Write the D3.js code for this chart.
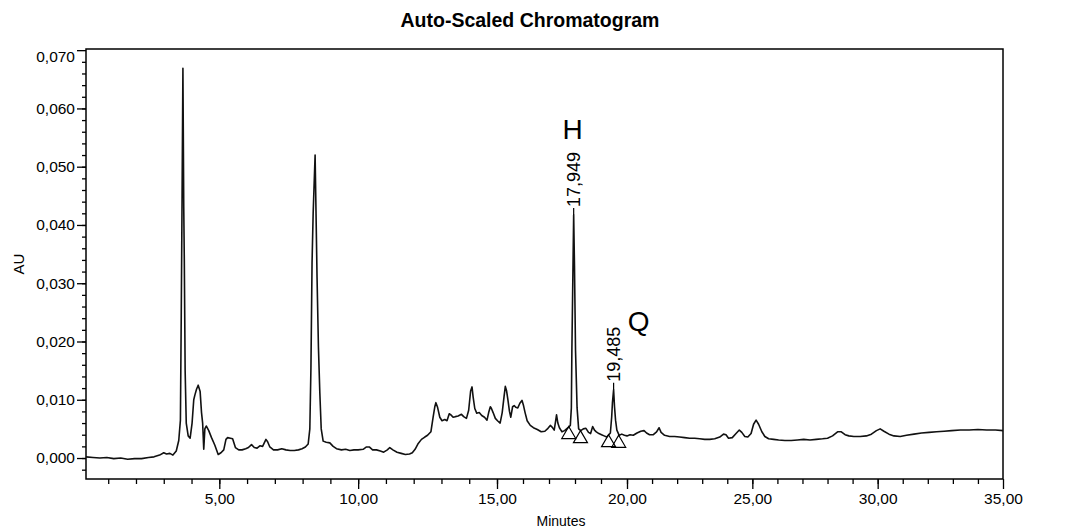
<!DOCTYPE html>
<html>
<head>
<meta charset="utf-8">
<script src="https://cdn.jsdelivr.net/npm/d3@7"></script>
<style>
  body { margin: 0; background: #fff; }
  svg { display: block; font-family: "Liberation Sans", Arial, sans-serif; }
</style>
</head>
<body>
<svg id="chart" width="1066" height="531"></svg>
<script>
// chromatogram trace (minutes / AU)
var minutes = [
  0.20, 0.45, 0.70, 0.95, 1.20, 1.45, 1.70, 1.95, 2.20, 2.45, 2.65, 2.85, 3.00, 3.10, 3.22, 3.33, 3.45, 3.54, 3.60, 3.63,
  3.66, 3.69, 3.72, 3.74, 3.77, 3.81, 3.88, 3.95, 4.02, 4.08, 4.12, 4.18, 4.24, 4.31, 4.36, 4.40, 4.44, 4.48, 4.53, 4.62,
  4.72, 4.84, 4.96, 5.06, 5.16, 5.24, 5.30, 5.40, 5.48, 5.58, 5.70, 5.82, 5.95, 6.05, 6.16, 6.26, 6.36, 6.46, 6.56, 6.68,
  6.74, 6.82, 6.95, 7.10, 7.25, 7.40, 7.55, 7.70, 7.85, 7.98, 8.10, 8.20, 8.26, 8.30, 8.34, 8.38, 8.45, 8.49, 8.52, 8.57,
  8.62, 8.67, 8.74, 8.85, 8.98, 9.10, 9.22, 9.40, 9.55, 9.70, 9.85, 10.00, 10.18, 10.30, 10.40, 10.52, 10.66, 10.80, 10.92, 11.05,
  11.14, 11.25, 11.40, 11.55, 11.70, 11.85, 11.95, 12.05, 12.15, 12.28, 12.40, 12.50, 12.62, 12.70, 12.76, 12.80, 12.86, 12.94, 13.02, 13.12,
  13.20, 13.28, 13.34, 13.42, 13.50, 13.60, 13.72, 13.80, 13.90, 13.98, 14.05, 14.10, 14.14, 14.20, 14.27, 14.36, 14.45, 14.55, 14.64, 14.70,
  14.76, 14.80, 14.86, 14.94, 15.02, 15.12, 15.20, 15.27, 15.32, 15.37, 15.42, 15.48, 15.53, 15.60, 15.66, 15.72, 15.80, 15.88, 15.96, 16.02,
  16.08, 16.16, 16.28, 16.40, 16.55, 16.70, 16.84, 16.96, 17.05, 17.12, 17.20, 17.25, 17.29, 17.34, 17.40, 17.50, 17.60, 17.70, 17.78, 17.82,
  17.86, 17.88, 17.949, 17.98, 18.02, 18.08, 18.14, 18.22, 18.32, 18.42, 18.52, 18.60, 18.68, 18.75, 18.82, 18.92, 19.02, 19.12, 19.22, 19.30,
  19.36, 19.41, 19.44, 19.485, 19.52, 19.56, 19.61, 19.70, 19.80, 19.90, 20.00, 20.12, 20.25, 20.40, 20.55, 20.68, 20.78, 20.90, 21.05, 21.18,
  21.28, 21.36, 21.50, 21.70, 21.90, 22.10, 22.30, 22.50, 22.70, 22.90, 23.10, 23.30, 23.50, 23.70, 23.85, 23.95, 24.05, 24.20, 24.35, 24.48,
  24.58, 24.70, 24.82, 24.95, 25.05, 25.15, 25.25, 25.38, 25.50, 25.65, 25.85, 26.05, 26.30, 26.55, 26.80, 27.05, 27.30, 27.55, 27.80, 28.00,
  28.20, 28.40, 28.55, 28.70, 28.85, 29.05, 29.30, 29.55, 29.75, 29.95, 30.10, 30.25, 30.45, 30.65, 30.90, 31.15, 31.45, 31.75, 32.05, 32.35,
  32.65, 32.95, 33.30, 33.65, 34.00, 34.35, 34.70, 35.00
];
var au = [
  0.0002, 0.0001, 0.0000, 0.0001, -0.0001, 0.0000, -0.0002, -0.0001, -0.0001, 0.0001, 0.0002, 0.0005, 0.0009, 0.0007, 0.0008, 0.0005, 0.0012, 0.0030, 0.0065, 0.0245,
  0.0450, 0.0669, 0.0430, 0.0340, 0.0150, 0.0060, 0.0038, 0.0034, 0.0060, 0.0100, 0.0108, 0.0118, 0.0125, 0.0114, 0.0078, 0.0060, 0.0015, 0.0050, 0.0055, 0.0047,
  0.0035, 0.0022, 0.0006, 0.0009, 0.0014, 0.0032, 0.0035, 0.0034, 0.0033, 0.0018, 0.0014, 0.0014, 0.0016, 0.0018, 0.0023, 0.0018, 0.0017, 0.0021, 0.0020, 0.0032,
  0.0028, 0.0019, 0.0014, 0.0014, 0.0016, 0.0014, 0.0013, 0.0013, 0.0014, 0.0016, 0.0019, 0.0024, 0.0050, 0.0155, 0.0335, 0.0420, 0.0520, 0.0400, 0.0310, 0.0190,
  0.0112, 0.0050, 0.0029, 0.0027, 0.0026, 0.0020, 0.0016, 0.0014, 0.0015, 0.0013, 0.0014, 0.0014, 0.0015, 0.0019, 0.0019, 0.0014, 0.0014, 0.0012, 0.0010, 0.0014,
  0.0018, 0.0014, 0.0010, 0.0008, 0.0006, 0.0007, 0.0009, 0.0015, 0.0024, 0.0032, 0.0036, 0.0039, 0.0045, 0.0070, 0.0088, 0.0095, 0.0087, 0.0070, 0.0064, 0.0066,
  0.0064, 0.0076, 0.0074, 0.0070, 0.0071, 0.0072, 0.0075, 0.0071, 0.0068, 0.0082, 0.0115, 0.0122, 0.0105, 0.0085, 0.0077, 0.0078, 0.0073, 0.0070, 0.0065, 0.0078,
  0.0088, 0.0085, 0.0078, 0.0068, 0.0064, 0.0060, 0.0078, 0.0105, 0.0123, 0.0115, 0.0100, 0.0080, 0.0070, 0.0088, 0.0090, 0.0087, 0.0086, 0.0094, 0.0099, 0.0090,
  0.0078, 0.0064, 0.0056, 0.0052, 0.0049, 0.0045, 0.0046, 0.0051, 0.0056, 0.0053, 0.0048, 0.0062, 0.0074, 0.0060, 0.0052, 0.0045, 0.0047, 0.0051, 0.0054, 0.0056,
  0.0086, 0.0185, 0.0417, 0.0330, 0.0185, 0.0086, 0.0050, 0.0047, 0.0050, 0.0051, 0.0044, 0.0042, 0.0054, 0.0048, 0.0045, 0.0042, 0.0040, 0.0038, 0.0036, 0.0040,
  0.0043, 0.0070, 0.0095, 0.0117, 0.0088, 0.0065, 0.0048, 0.0039, 0.0041, 0.0039, 0.0038, 0.0040, 0.0039, 0.0043, 0.0046, 0.0047, 0.0043, 0.0040, 0.0040, 0.0045,
  0.0052, 0.0044, 0.0039, 0.0037, 0.0037, 0.0036, 0.0035, 0.0034, 0.0034, 0.0033, 0.0032, 0.0032, 0.0033, 0.0036, 0.0041, 0.0040, 0.0034, 0.0035, 0.0042, 0.0048,
  0.0044, 0.0037, 0.0036, 0.0042, 0.0058, 0.0065, 0.0058, 0.0045, 0.0037, 0.0033, 0.0032, 0.0031, 0.0030, 0.0030, 0.0031, 0.0032, 0.0031, 0.0032, 0.0033, 0.0034,
  0.0038, 0.0045, 0.0045, 0.0040, 0.0038, 0.0037, 0.0037, 0.0038, 0.0041, 0.0047, 0.0050, 0.0046, 0.0041, 0.0038, 0.0037, 0.0039, 0.0041, 0.0043, 0.0044, 0.0045,
  0.0046, 0.0047, 0.0048, 0.0048, 0.0049, 0.0048, 0.0048, 0.0047
];

// axes
var xMajor = [5, 10, 15, 20, 25, 30, 35];
var xMinor = d3.range(1, 35);
var yMajor = [0, 0.01, 0.02, 0.03, 0.04, 0.05, 0.06, 0.07];
var yMinor = d3.range(-0.002, 0.0695, 0.002);

// integrated peaks: retention time, apex, name; start/end markers
var peakTimes = [17.949, 19.485];
var peakHeights = [0.0417, 0.0117];
var peakNames = ['H', 'Q'];
var markTimes = [17.76, 18.21, 19.29, 19.68];
var markAU = [0.0054, 0.0047, 0.0040, 0.0039];

var svg = d3.select('#chart');
var L = 86, R = 1003, T = 49, B = 479;

// the scanned printout is stretched unevenly, so the time axis bends a little at 15 and 20 min
var x = d3.scaleLinear().domain([0.2, 15, 20, 35]).range([L, 497, 627, R]);
var y = d3.scaleLinear().domain([-0.0036, 0.0702]).range([B, T]);
var comma = d3.formatLocale({ decimal: ',', thousands: '.', grouping: [3], currency: ['', ''] });
var fy = comma.format('.3f'), fx = comma.format('.2f'), fp = comma.format('.3f');

svg.append('text').attr('x', 530).attr('y', 27).attr('text-anchor', 'middle')
  .attr('font-size', 19.5).attr('font-weight', 700).text('Auto-Scaled Chromatogram');

// minor ticks first, then majors with labels
svg.append('g').attr('transform', 'translate(' + L + ',0)')
  .call(d3.axisLeft(y).tickValues(yMinor).tickSize(4).tickFormat(''))
  .call(function (g) { g.select('.domain').remove(); });
var gy = svg.append('g').attr('transform', 'translate(' + L + ',0)')
  .call(d3.axisLeft(y).tickValues(yMajor).tickSize(9).tickPadding(2).tickFormat(fy));
gy.select('.domain').remove();
// top label sits just under the frame on the printout
gy.selectAll('.tick text').filter(function (d) { return d === 0.07; }).attr('dy', '0.72em');
svg.append('g').attr('transform', 'translate(0,' + B + ')')
  .call(d3.axisBottom(x).tickValues(xMinor).tickSize(5).tickFormat(''))
  .call(function (g) { g.select('.domain').remove(); });
var gx = svg.append('g').attr('transform', 'translate(0,' + B + ')')
  .call(d3.axisBottom(x).tickValues(xMajor).tickSize(10).tickPadding(4).tickFormat(fx));
gx.select('.domain').remove();
svg.selectAll('.tick line').attr('stroke', '#000').attr('stroke-width', 1.3);
svg.selectAll('.tick text').attr('font-family', '"Liberation Sans", Arial, sans-serif')
  .attr('font-size', 15.5).attr('fill', '#000');

svg.append('rect').attr('x', L).attr('y', T).attr('width', R - L).attr('height', B - T)
  .attr('fill', 'none').attr('stroke', '#000').attr('stroke-width', 1.5);

svg.append('text').attr('transform', 'translate(19,' + ((T + B) / 2) + ') rotate(-90)')
  .attr('text-anchor', 'middle').attr('dy', '0.35em').attr('font-size', 15).text('AU');
svg.append('text').attr('x', 561).attr('y', 526).attr('text-anchor', 'middle')
  .attr('font-size', 14).text('Minutes');

// trace
var line = d3.line().x(function (i) { return x(minutes[i]); }).y(function (i) { return y(au[i]); });
svg.append('path').attr('d', line(d3.range(minutes.length)))
  .attr('fill', 'none').attr('stroke', '#111').attr('stroke-width', 1.6).attr('stroke-linejoin', 'round');

// peak start / end triangles
svg.append('g').selectAll('path').data(markTimes).enter().append('path')
  .attr('d', function (t, i) {
    var px = x(t), py = y(markAU[i]);
    return 'M' + px + ',' + py + 'L' + (px + 7) + ',' + (py + 12) + 'L' + (px - 7) + ',' + (py + 12) + 'Z';
  })
  .attr('fill', 'none').attr('stroke', '#000').attr('stroke-width', 1.2);

// retention time labels + peak names
var gp = svg.append('g').selectAll('g').data(peakTimes).enter().append('g')
  .attr('transform', function (t, i) { return 'translate(' + x(t) + ',' + y(peakHeights[i]) + ')'; });
gp.append('line').attr('y1', 0).attr('y2', -7).attr('stroke', '#000').attr('stroke-width', 1.2);
gp.append('text').attr('transform', 'translate(0,-8) rotate(-90)').attr('dy', '0.35em')
  .attr('font-size', 18).text(function (t) { return fp(t); });
gp.append('text')
  .attr('x', function (t, i) { return i === 0 ? -1 : 25; })
  .attr('y', function (t, i) { return i === 0 ? -76 : -59; })
  .attr('text-anchor', 'middle').attr('font-size', 28)
  .text(function (t, i) { return peakNames[i]; });
</script>
</body>
</html>
